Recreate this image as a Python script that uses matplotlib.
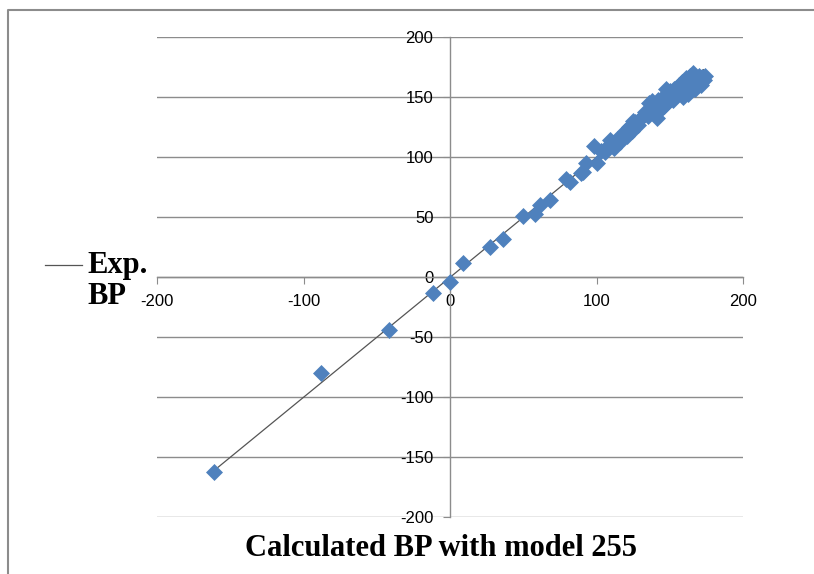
import matplotlib.pyplot as plt
from matplotlib.lines import Line2D

plt.rcParams["axes.unicode_minus"] = False

calc_bp = [-161, -88, -42, -12, 0, 9, 27, 36, 50, 58, 61, 68, 79, 82, 89,
           91, 93, 98, 100, 103, 106, 108, 109, 111, 112, 114, 116, 118, 119,
           121, 122, 124, 125, 126, 128, 130, 132, 133, 135, 136, 137, 138,
           139, 140, 141, 142, 143, 145, 146, 147, 148, 149, 150, 152, 153,
           155, 156, 157, 158, 159, 160, 161, 162, 163, 164, 165, 166, 167,
           168, 169, 170, 171, 172, 173, 174]
exp_bp = [-162, -80, -44, -13, -4, 12, 25, 32, 51, 53, 60, 64, 82, 79, 87,
          88, 95, 109, 95, 105, 104, 109, 114, 112, 108, 115, 113, 119, 122,
          118, 125, 122, 130, 129, 127, 133, 135, 138, 134, 145, 140, 147,
          137, 142, 133, 148, 139, 150, 143, 157, 152, 146, 155, 148, 157,
          152, 160, 155, 163, 150, 158, 166, 153, 161, 168, 160, 170, 157,
          165, 162, 168, 160, 167, 164, 168]
trend_x = [-163, 173]
trend_y = [-163, 173]

x_ticks = [-200, -100, 0, 100, 200]
y_ticks = [-200, -150, -100, -50, 0, 50, 100, 150, 200]

GRAY = "#8c8c8c"
BLUE = "#4F81BD"

fig = plt.figure(figsize=(8.14, 5.74), dpi=100)
ax = fig.add_axes([0.193, 0.099, 0.720, 0.836])

ax.plot(trend_x, trend_y, color="#555555", linewidth=0.9, zorder=2)
ax.scatter(calc_bp, exp_bp, marker="D", s=75, color=BLUE, linewidths=0, zorder=3)

ax.set_xlim(-200, 200)
ax.set_ylim(-200, 200)
ax.set_xticks(x_ticks)
ax.set_yticks(y_ticks)

# Excel style: axes crossing at the origin
for side in ["top", "right"]:
    ax.spines[side].set_visible(False)
ax.spines["left"].set_position(("data", 0))
ax.spines["bottom"].set_position(("data", 0))
for side in ["left", "bottom"]:
    ax.spines[side].set_color(GRAY)
    ax.spines[side].set_linewidth(1.0)

ax.grid(True, axis="y", color=GRAY, linewidth=1.0)
ax.set_axisbelow(True)
ax.tick_params(axis="both", direction="out", length=5, color=GRAY,
               labelsize=12, labelcolor="black")
ax.tick_params(axis="y", pad=7)
ax.tick_params(axis="x", pad=7)
for lab in ax.get_xticklabels() + ax.get_yticklabels():
    lab.set_fontfamily("Liberation Sans")

# legend drawn by hand to the left of the plot
fig.add_artist(Line2D([45 / 814, 82 / 814], [1 - 265 / 574, 1 - 265 / 574],
                      color="#555555", linewidth=0.9))
fig.text(87 / 814, 1 - 265 / 574, "Exp.", family="Liberation Serif",
         weight="bold", fontsize=22, va="center", ha="left")
fig.text(87 / 814, 1 - 296 / 574, "BP", family="Liberation Serif",
         weight="bold", fontsize=22, va="center", ha="left")

fig.text(441 / 814, 1 - 548 / 574, "Calculated BP with model 255",
         family="Liberation Serif", weight="bold", fontsize=22,
         va="center", ha="center")

# chart area border (top and left edges visible in the crop)
fig.add_artist(Line2D([8 / 814, 8 / 814, 1.0], [0.0, 1 - 10 / 574, 1 - 10 / 574],
                      color="#8c8c8c", linewidth=1.5))

fig.savefig("out.png", dpi=100)
